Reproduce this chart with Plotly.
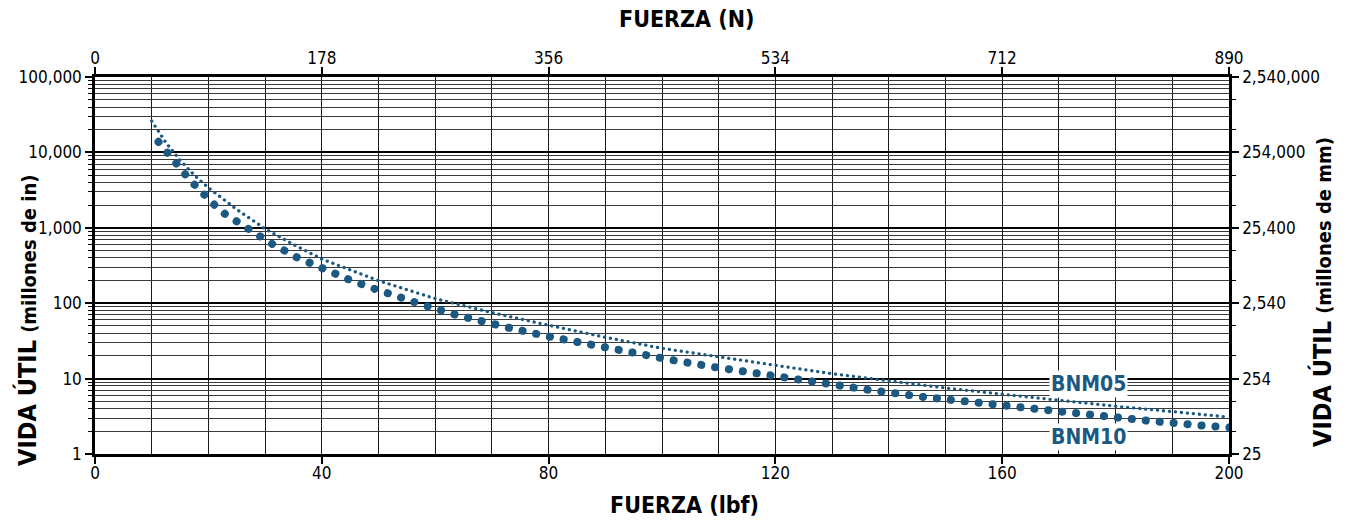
import plotly.graph_objects as go

# ---------------- data ----------------
force_ticks_lbf = [0, 40, 80, 120, 160, 200]
force_ticks_N = ["0", "178", "356", "534", "712", "890"]

life_ticks = [1, 10, 100, 1000, 10000, 100000]
life_ticks_in = ["1", "10", "100", "1,000", "10,000", "100,000"]
life_ticks_mm = ["25", "254", "2,540", "25,400", "254,000", "2,540,000"]

bnm05_force = [10, 12.5, 15, 17.5, 20, 25, 30, 35, 40, 50, 60, 70, 80, 90, 100,
               110, 120, 130, 140, 150, 160, 170, 180, 190, 200]
bnm05_life = [26000, 13500, 7900, 5000, 3400, 1750, 970, 600, 385, 199, 115, 75,
              51, 35.3, 25.2, 19.2, 15, 11.6, 9.3, 7.5, 6.2, 5.1, 4.3, 3.65, 3.08]

bnm10_force = [11.2, 12.7, 14.3, 15.9, 17.5, 19.2, 21, 22.9, 24.9, 26.9, 29, 31.2,
               35.5, 40, 44.6, 49.2, 53.8, 58.6, 63.3, 68.1, 72.9, 80.1, 87.4, 94.7,
               102, 109.3, 116.6, 126.4, 136.2, 146, 155.8, 165.6, 175.4, 185.3,
               195.1, 200.3]
bnm10_life = [13800, 9840, 7130, 5140, 3760, 2740, 2040, 1530, 1215, 962, 760, 614,
              409, 290, 209, 156, 117, 91, 71.3, 57.5, 47.4, 36.0, 27.9, 21.9,
              17.5, 14.2, 11.6, 9.1, 7.15, 5.72, 4.72, 3.88, 3.27, 2.78, 2.39, 2.24]

series_labels = ["BNM05", "BNM10"]

# ---------------- styling ----------------
BLUE = "#1b5882"
FONT = "Liberation Sans Narrow, Arial Narrow, DejaVu Sans Condensed, sans-serif"

fig = go.Figure()
fig.add_trace(go.Scatter(x=bnm10_force, y=bnm10_life, mode="lines", name="BNM10",
                         line=dict(color=BLUE, width=8, dash="0.1px,13.9px"),
                         cliponaxis=False, hoverinfo="skip"))
# BNM05 drawn on the secondary (N / mm) axes, which share the same ranges
fig.add_trace(go.Scatter(x=bnm05_force, y=bnm05_life, mode="lines", name="BNM05",
                         xaxis="x2", yaxis="y2",
                         line=dict(color=BLUE, width=3.3, dash="0.1px,5.9px"),
                         hoverinfo="skip"))

tickfont = dict(family=FONT, size=17, color="black")

fig.update_layout(
    width=1348, height=529,
    margin=dict(l=95, r=119, t=77, b=75),
    paper_bgcolor="white", plot_bgcolor="white",
    showlegend=False,
    xaxis=dict(
        range=[0, 200], tickmode="array", tickvals=force_ticks_lbf,
        ticktext=[str(v) for v in force_ticks_lbf],
        ticks="outside", ticklen=7, tickwidth=1.5, tickcolor="black",
        tickfont=tickfont, ticklabelstandoff=-5,
        showgrid=True, gridcolor="#1a1a1a", gridwidth=1.4,
        minor=dict(dtick=10, showgrid=True, gridcolor="#1a1a1a", gridwidth=1.4, ticks=""),
        showline=True, linecolor="black", linewidth=2.5, mirror=True,
        zeroline=False,
    ),
    xaxis2=dict(
        range=[0, 200], overlaying="x", side="top", anchor="y2",
        tickmode="array", tickvals=force_ticks_lbf, ticktext=force_ticks_N,
        ticks="outside", ticklen=7, tickwidth=1.5, tickcolor="black",
        tickfont=tickfont, ticklabelstandoff=-4, showgrid=False, zeroline=False,
        showline=True, linecolor="black", linewidth=2.5,
    ),
    yaxis=dict(
        type="log", range=[0, 5], tickmode="array", tickvals=life_ticks,
        ticktext=life_ticks_in,
        ticks="outside", ticklen=7, tickwidth=1.5, tickcolor="black",
        tickfont=tickfont,
        showgrid=True, gridcolor="black", gridwidth=2.2,
        minor=dict(dtick="D1", showgrid=True, gridcolor="#3a3a3a", gridwidth=1.2,
                   ticks="outside", ticklen=4, tickcolor="black", tickwidth=1),
        showline=True, linecolor="black", linewidth=2.5, mirror=True,
        zeroline=False,
    ),
    yaxis2=dict(
        type="log", range=[0, 5], overlaying="y", side="right", anchor="x2",
        tickmode="array", tickvals=life_ticks, ticktext=life_ticks_mm,
        ticks="outside", ticklen=7, tickwidth=1.5, tickcolor="black",
        tickfont=tickfont, showgrid=False, zeroline=False,
        minor=dict(dtick="D2", ticks="outside", ticklen=4, tickcolor="black", tickwidth=1),
        showline=True, linecolor="black", linewidth=2.5,
    ),
)

fig.add_annotation(text="<b>FUERZA (N)</b>", xref="paper", yref="paper",
                   x=0.522, y=1 + (77 - 19) / 377, showarrow=False,
                   font=dict(family=FONT, size=23, color="black"),
                   xanchor="center", yanchor="middle")
fig.add_annotation(text="<b>FUERZA (lbf)</b>", xref="paper", yref="paper",
                   x=0.520, y=-(505 - 454) / 377, showarrow=False,
                   font=dict(family=FONT, size=23, color="black"),
                   xanchor="center", yanchor="middle")
fig.add_annotation(text="<b>VIDA ÚTIL</b> <b><span style='font-size:20px'>(millones de in)</span></b>",
                   xref="paper", yref="paper",
                   x=-(95 - 27) / 1134, y=(454 - 320) / 377, showarrow=False,
                   textangle=-90,
                   font=dict(family=FONT, size=25, color="black"),
                   xanchor="center", yanchor="middle")
fig.add_annotation(text="<b>VIDA ÚTIL</b> <b><span style='font-size:20px'>(millones de mm)</span></b>",
                   xref="paper", yref="paper",
                   x=1 + (1322 - 1229) / 1134, y=(454 - 292) / 377, showarrow=False,
                   textangle=-90,
                   font=dict(family=FONT, size=25, color="black"),
                   xanchor="center", yanchor="middle")

# series labels
for label, ypix in zip(series_labels, [384, 437]):
    fig.add_annotation(text="<b>%s</b>" % label, x=175.3, xref="x",
                       yref="paper", y=(454 - ypix) / 377, showarrow=False,
                       xanchor="center", yanchor="middle",
                       bgcolor="white", borderpad=1,
                       font=dict(family=FONT, size=21, color=BLUE))

post = ("var gd=document.getElementById('{plot_id}');"
        "gd.querySelectorAll('.js-line').forEach(function(p){p.style.strokeLinecap='round';});")
fig.write_html("out.html", post_script=post)
